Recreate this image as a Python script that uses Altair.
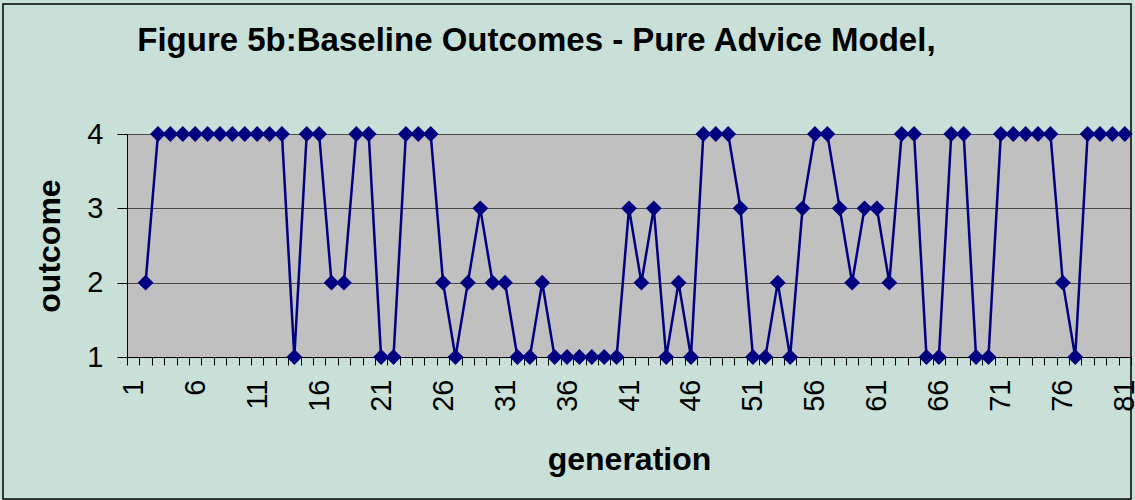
import altair as alt
import pandas as pd

# generation 1 has no plotted value in the reference
generations = list(range(2, 82))
outcomes = (
    [2, 4, 4, 4, 4, 4, 4, 4, 4, 4, 4, 4]          # 2-13
    + [1, 4, 4, 2, 2, 4, 4, 1, 1, 4]               # 14-23
    + [4, 4, 2, 1, 2, 3, 2, 2, 1, 1]               # 24-33
    + [2, 1, 1, 1, 1, 1, 1, 3, 2, 3]               # 34-43
    + [1, 2, 1, 4, 4, 4, 3, 1, 1, 2]               # 44-53
    + [1, 3, 4, 4, 3, 2, 3, 3, 2, 4]               # 54-63
    + [4, 1, 1, 4, 4, 1, 1, 4, 4, 4]               # 64-73
    + [4, 4, 2, 1, 4, 4, 4, 4]                     # 74-81
)
all_generations = list(range(1, 82))
y_ticks = [1, 2, 3, 4]

TITLE = "Figure 5b:Baseline Outcomes - Pure Advice Model,"
FONT = "Liberation Sans"
NAVY = "#000080"

df = pd.DataFrame({"generation": generations, "outcome": outcomes})

x_enc = alt.X(
    "generation:O",
    scale=alt.Scale(domain=all_generations, paddingInner=0, paddingOuter=0),
    axis=alt.Axis(
        title="generation",
        titleFont=FONT, titleFontSize=32, titleFontWeight="bold", titleColor="black",
        titlePadding=33,
        labelFont=FONT, labelFontSize=29, labelColor="black",
        labelAngle=270, labelPadding=14, labelOverlap=False,
        labelExpr="(datum.value - 1) % 5 == 0 ? datum.label : ''",
        tickBand="extent", tickSize=8, tickColor="black", tickWidth=1,
        domainColor="black", domainWidth=1, grid=False,
    ),
)
y_enc = alt.Y(
    "outcome:Q",
    scale=alt.Scale(domain=[1, 4], nice=False, zero=False),
    axis=alt.Axis(
        values=y_ticks, format="d",
        title="outcome",
        titleFont=FONT, titleFontSize=32, titleFontWeight="bold", titleColor="black",
        titlePadding=20,
        labelFont=FONT, labelFontSize=29, labelColor="black", labelPadding=14,
        tickSize=10, tickColor="black", tickWidth=1,
        domainColor="black", domainWidth=1,
        grid=True, gridColor="#4a4a4a", gridWidth=1,
    ),
)

line = alt.Chart(df).mark_line(color=NAVY, strokeWidth=2.5).encode(x=x_enc, y=y_enc)
points = alt.Chart(df).mark_point(
    shape="diamond", filled=True, color=NAVY, size=250, opacity=1
).encode(x=x_enc, y=y_enc)

border = alt.Chart(alt.Data(values=[{}])).mark_rect(
    fill="transparent", stroke="black", strokeWidth=1.5, clip=False
).encode(
    x=alt.value(-124), x2=alt.value(1004), y=alt.value(-130), y2=alt.value(365)
)

chart = alt.layer(line, points, border).properties(
    width=1004,
    height=223,
    title=alt.TitleParams(
        TITLE, anchor="start", dx=135, dy=81, font=FONT, fontSize=33,
        fontWeight="bold", color="black", offset=0, baseline="alphabetic",
    ),
    autosize=alt.AutoSizeParams(type="none"),
    padding={"left": 127, "top": 134, "right": 4, "bottom": 143},
    background="#C8E0D8",
).configure_view(fill="#C0C0C0", stroke=None)

chart.save("out.html", embed_options={"renderer": "svg", "actions": False})
